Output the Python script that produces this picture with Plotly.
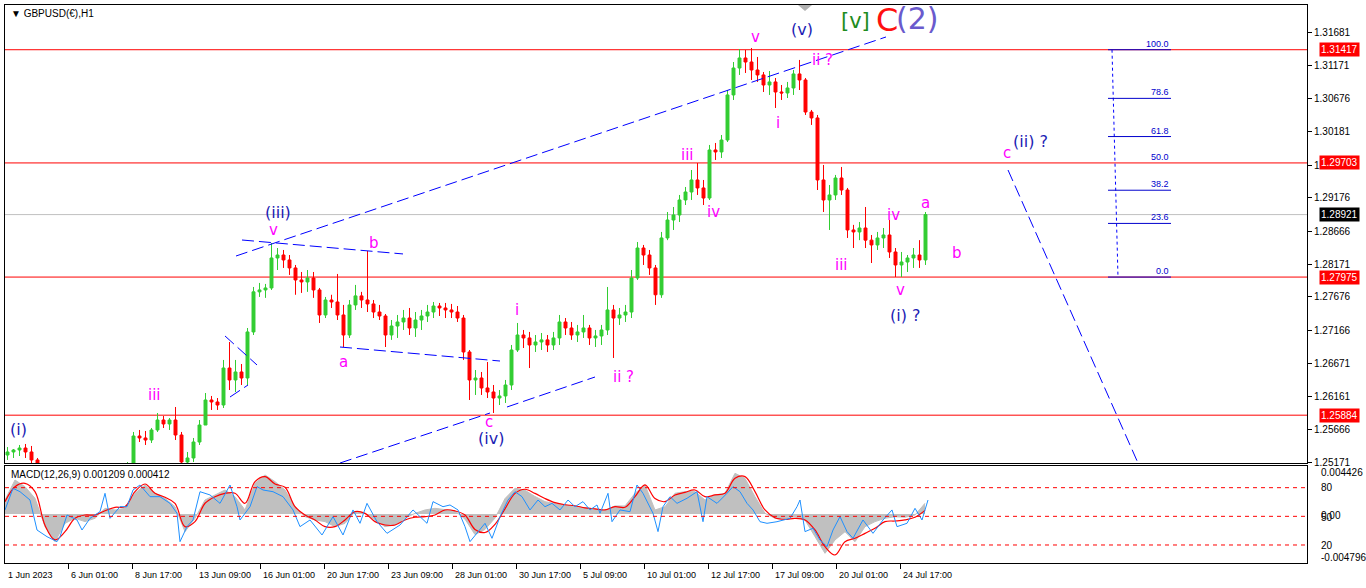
import plotly.graph_objects as go

# ---------------- price data (H1 bars grouped 6 per candle) ----------------
candle_open = [1.25281,1.25327,1.25357,1.25387,1.25327,1.25206,1.25054,1.24903,1.24751,1.24827,
 1.24873,1.24933,1.24979,1.24903,1.24994,1.24964,1.24827,1.24751,1.24842,1.24964,
 1.25054,1.25130,1.25569,1.25539,1.25508,1.25660,1.25811,1.25751,1.25811,1.25584,
 1.25175,1.25236,1.25478,1.25735,1.26114,1.26084,1.26038,1.26598,1.26417,1.26538,
 1.26447,1.27144,1.27751,1.27780,1.27810,1.28264,1.28309,1.28234,1.28113,1.27931,
 1.27901,1.27961,1.27780,1.27401,1.27628,1.27598,1.27401,1.27098,1.27553,1.27690,
 1.27628,1.27568,1.27446,1.27386,1.27098,1.27234,1.27295,1.27355,1.27204,1.27325,
 1.27386,1.27446,1.27537,1.27507,1.27477,1.27446,1.27355,1.26841,1.26417,1.26447,
 1.26296,1.26235,1.26144,1.26175,1.26341,1.26871,1.27098,1.27053,1.26947,1.26992,
 1.27024,1.26947,1.27053,1.27295,1.27204,1.27098,1.27144,1.27204,1.27053,1.27083,
 1.27174,1.27477,1.27355,1.27401,1.27446,1.27961,1.28415,1.28309,1.28113,1.27707,
 1.28567,1.28839,1.28915,1.29142,1.29263,1.29445,1.29324,1.29172,1.29899,1.29869,
 1.30050,1.30732,1.31140,1.31292,1.31231,1.31110,1.31035,1.30883,1.30929,1.30777,
 1.30762,1.30838,1.31050,1.30959,1.30474,1.30384,1.29445,1.29142,1.29218,1.29475,
 1.29293,1.28688,1.28658,1.28718,1.28534,1.28461,1.28567,1.28612,1.28355,1.28158,
 1.28203,1.28264,1.28309,1.28234]
candle_high = [1.25402,1.25372,1.25433,1.25448,1.25418,1.25236,1.25085,1.24979,1.24903,1.24933,
 1.25024,1.25054,1.25085,1.25054,1.25085,1.25054,1.24933,1.24903,1.25024,1.25085,
 1.25175,1.25630,1.25660,1.25645,1.25690,1.25917,1.25872,1.25841,1.26008,1.25630,
 1.25327,1.25539,1.25811,1.26220,1.26175,1.26144,1.26720,1.26992,1.26720,1.26659,
 1.27204,1.27825,1.27886,1.27871,1.28491,1.28415,1.28385,1.28309,1.28158,1.28052,
 1.28082,1.28052,1.27810,1.27674,1.27707,1.28022,1.27553,1.27628,1.27856,1.27751,
 1.28370,1.27628,1.27553,1.27416,1.27325,1.27401,1.27477,1.27507,1.27446,1.27477,
 1.27553,1.27598,1.27583,1.27583,1.27568,1.27537,1.27401,1.26871,1.26568,1.26538,
 1.26689,1.26341,1.26265,1.26417,1.26947,1.27280,1.27174,1.27144,1.27098,1.27128,
 1.27098,1.27144,1.27401,1.27355,1.27295,1.27250,1.27401,1.27250,1.27174,1.27250,
 1.27825,1.27553,1.27507,1.27553,1.28082,1.28506,1.28461,1.28385,1.28158,1.28658,
 1.28960,1.29036,1.29218,1.29339,1.29596,1.29702,1.29445,1.29975,1.30005,1.30126,
 1.30807,1.31231,1.31428,1.31413,1.31443,1.31307,1.31080,1.31095,1.30989,1.30883,
 1.30929,1.31110,1.31262,1.30989,1.30505,1.30429,1.29672,1.29369,1.29521,1.29642,
 1.29324,1.28765,1.28809,1.29036,1.28612,1.28658,1.28718,1.28839,1.28415,1.28355,
 1.28309,1.28415,1.28534,1.28960]
candle_low = [1.25206,1.25236,1.25266,1.25236,1.25160,1.24979,1.24827,1.24676,1.24600,1.24676,
 1.24751,1.24782,1.24812,1.24751,1.24842,1.24751,1.24630,1.24600,1.24751,1.24873,
 1.24964,1.25115,1.25478,1.25433,1.25463,1.25630,1.25690,1.25660,1.25508,1.25054,
 1.25085,1.25175,1.25433,1.25735,1.25963,1.25963,1.25993,1.26265,1.26235,1.26341,
 1.26341,1.27098,1.27674,1.27660,1.27780,1.28082,1.28113,1.28007,1.27707,1.27735,
 1.27751,1.27660,1.27280,1.27355,1.27507,1.27325,1.26916,1.27053,1.27477,1.27507,
 1.27446,1.27355,1.27325,1.26916,1.27024,1.27053,1.27174,1.27098,1.27068,1.27174,
 1.27295,1.27355,1.27386,1.27355,1.27355,1.27295,1.26720,1.26114,1.26190,1.26190,
 1.26144,1.25917,1.26038,1.26069,1.26265,1.26841,1.26901,1.26598,1.26841,1.26871,
 1.26841,1.26871,1.26947,1.27098,1.27024,1.26992,1.27053,1.26947,1.26916,1.26947,
 1.27098,1.26750,1.27250,1.27295,1.27355,1.27931,1.28158,1.28007,1.27553,1.27660,
 1.28534,1.28688,1.28809,1.29066,1.29142,1.29218,1.29066,1.29142,1.29748,1.29778,
 1.30020,1.30656,1.31035,1.31065,1.30959,1.30929,1.30777,1.30732,1.30535,1.30656,
 1.30686,1.30732,1.30807,1.30429,1.30278,1.29293,1.28960,1.28688,1.29142,1.29218,
 1.28567,1.28415,1.28534,1.28415,1.28188,1.28385,1.28415,1.28264,1.27976,1.27976,
 1.28052,1.28113,1.28113,1.28158]
candle_close = [1.25327,1.25357,1.25387,1.25327,1.25206,1.25054,1.24903,1.24751,1.24827,1.24873,
 1.24933,1.24979,1.24903,1.24994,1.24964,1.24827,1.24751,1.24842,1.24964,1.25054,
 1.25130,1.25569,1.25539,1.25508,1.25660,1.25811,1.25751,1.25811,1.25584,1.25175,
 1.25236,1.25478,1.25735,1.26114,1.26084,1.26038,1.26598,1.26417,1.26538,1.26447,
 1.27144,1.27751,1.27780,1.27810,1.28264,1.28309,1.28234,1.28113,1.27931,1.27901,
 1.27961,1.27780,1.27401,1.27628,1.27598,1.27401,1.27098,1.27553,1.27690,1.27628,
 1.27568,1.27446,1.27386,1.27098,1.27234,1.27295,1.27355,1.27204,1.27325,1.27386,
 1.27446,1.27537,1.27507,1.27477,1.27446,1.27355,1.26841,1.26417,1.26447,1.26296,
 1.26235,1.26144,1.26175,1.26341,1.26871,1.27098,1.27053,1.26947,1.26992,1.27024,
 1.26947,1.27053,1.27295,1.27204,1.27098,1.27144,1.27204,1.27053,1.27083,1.27174,
 1.27477,1.27355,1.27401,1.27446,1.27961,1.28415,1.28309,1.28113,1.27707,1.28567,
 1.28839,1.28915,1.29142,1.29263,1.29445,1.29324,1.29172,1.29899,1.29869,1.30050,
 1.30732,1.31140,1.31292,1.31231,1.31110,1.31035,1.30883,1.30929,1.30777,1.30762,
 1.30838,1.31050,1.30959,1.30474,1.30384,1.29445,1.29142,1.29218,1.29475,1.29293,
 1.28688,1.28658,1.28718,1.28534,1.28461,1.28567,1.28612,1.28355,1.28158,1.28203,
 1.28264,1.28309,1.28234,1.28921]
BARS_PER_CANDLE = 6
candle_x = [BARS_PER_CANDLE * k + 2.5 for k in range(len(candle_close))]

# ---------------- axes labels ----------------
price_ticks = [1.31681,1.31171,1.30676,1.30181,1.29671,1.29176,1.28666,1.28171,
               1.27676,1.27166,1.26671,1.26161,1.25666,1.25171]
red_levels = [1.31417, 1.29703, 1.27975, 1.25884]
current_price = 1.28921
date_labels = ["1 Jun 2023","6 Jun 01:00","8 Jun 17:00","13 Jun 09:00","16 Jun 01:00",
               "20 Jun 17:00","23 Jun 09:00","28 Jun 01:00","30 Jun 17:00","5 Jul 09:00",
               "10 Jul 01:00","12 Jul 17:00","17 Jul 09:00","20 Jul 01:00","24 Jul 17:00"]
date_bars = [0,63,127,191,255,319,383,447,511,575,639,703,767,831,895]

# ---------------- MACD panel data ----------------
macd_x = list(range(0, 930, 10))
macd_main = [0.00136,0.00330,0.00265,0.00152,-0.00123,-0.00269,-0.00091,-0.00042,-0.00074,-0.00042,
 0.00055,0.00039,0.00055,0.00201,0.00282,0.00201,0.00152,0.00071,-0.00172,-0.00042,
 0.00136,0.00185,0.00233,0.00168,0.00039,0.00298,0.00379,0.00314,0.00233,0.00071,
 -0.00026,-0.00058,-0.00074,-0.00123,-0.00091,0.00023,0.00006,-0.00058,-0.00123,-0.00107,
 -0.00042,0.00006,0.00039,0.00055,0.00039,
 0.00030,-0.00050,-0.00200,-0.00150,-0.00040,0.00150,0.00250,0.00230,0.00170,0.00120,
 0.00100,0.00090,0.00070,0.00060,0.00050,
 0.00039,0.00078,0.00078,0.00201,0.00282,0.00039,0.00071,0.00201,0.00217,0.00217,
 0.00136,0.00185,0.00201,0.00395,0.00346,0.00168,0.00006,-0.00042,-0.00042,-0.00026,
 -0.00058,-0.00220,-0.00382,-0.00252,-0.00172,-0.00269,-0.00123,-0.00074,-0.00042,-0.00026,
 -0.00032,-0.00010,0.00104]
macd_signal = [0.00120,0.00265,0.00298,0.00217,-0.00110,-0.00252,-0.00172,-0.00042,-0.00010,-0.00010,
 0.00032,0.00065,0.00071,0.00217,0.00291,0.00201,0.00162,0.00104,-0.00123,-0.00074,
 0.00104,0.00168,0.00201,0.00201,0.00104,0.00314,0.00363,0.00291,0.00259,0.00071,
 -0.00010,-0.00058,-0.00123,-0.00123,-0.00058,0.00023,0.00006,-0.00074,-0.00107,-0.00107,
 -0.00058,-0.00032,-0.00026,-0.00010,0.00039,
 0.00030,-0.00010,-0.00150,-0.00180,-0.00100,0.00050,0.00200,0.00240,0.00200,0.00150,
 0.00110,0.00090,0.00080,0.00060,0.00050,
 0.00039,0.00071,0.00065,0.00168,0.00282,0.00150,0.00120,0.00185,0.00210,0.00233,
 0.00168,0.00185,0.00201,0.00346,0.00363,0.00217,0.00039,-0.00036,-0.00052,-0.00042,
 -0.00058,-0.00155,-0.00317,-0.00398,-0.00269,-0.00236,-0.00188,-0.00139,-0.00074,-0.00068,
 -0.00058,-0.00032,0.00035]
osc_x = [0,8,15,25,32,42,52,55,62,72,77,85,95,100,105,115,122,128,135,145,155,165,172,175,182,188,
 195,205,215,225,232,235,245,252,258,268,278,288,295,305,317,328,338,348,355,362,372,382,395,408,
 422,428,438,445,453,460,465,473,480,487,495,503,510,517,525,533,540,547,555,563,570,578,585,592,
 595,603,607,615,625,632,638,648,653,658,665,672,682,692,698,702,712,722,728,735,742,748,755,762,
 772,785,792,795,800,808,815,822,828,835,842,848,858,868,878,887,892,902,910,917,923]
osc_v = [56.7,79.3,75.8,67.1,35.7,28.7,23.5,28.7,51.4,46.2,35.7,47.9,54.9,74.1,47.9,60.1,60.1,77.6,82.8,
 70.6,70.6,63.6,53.2,23.5,39.2,46.2,75.8,72.4,63.6,82.8,60.1,46.2,60.1,81.1,77.6,75.8,70.6,56.7,39.2,
 46.2,30.5,49.7,30.5,56.7,42.7,63.6,44.4,32.2,40.9,56.7,42.7,65.4,60.1,61.9,
 56.7,39.2,23.5,34.0,42.7,27.0,49.7,67.1,75.8,70.6,56.7,67.1,60.1,63.6,56.7,67.1,60.1,65.4,56.7,61.9,
 53.2,74.1,44.4,56.7,54.9,82.8,74.1,53.2,34.0,60.1,70.6,63.6,68.9,75.8,44.4,70.6,63.6,74.1,81.1,75.8,
 63.6,56.7,44.4,42.7,44.4,47.9,60.1,67.1,34.0,37.5,25.2,18.3,35.7,49.7,34.0,27.0,46.2,32.2,46.2,56.7,
 39.2,42.7,58.4,46.2,67.1]
osc_levels = [80, 50, 20]

# ---------------- drawn objects (bar index, price) ----------------
trend_lines = [
    ((231, 1.28294), (881, 1.31610)),
    ((335, 1.25160), (485, 1.25917)),
    ((502, 1.26008), (590, 1.26462)),
    ((237, 1.28536), (398, 1.28325)),
    ((335, 1.26916), (495, 1.26704)),
    ((220, 1.27083), (252, 1.26644)),
    ((225, 1.26159), (243, 1.26341)),
    ((1003, 1.29596), (1133, 1.25160)),
]
fib_low, fib_high = 1.27975, 1.31417
fib_ratios = [100.0, 78.6, 61.8, 50.0, 38.2, 23.6, 0.0]
fib_x0, fib_x1 = 1107, 1166

MAG, NAVY = "#FF00FF", "#1C1CB4"
wave_labels = [
    ("(i)", 13, 1.25660, NAVY, 16), ("iii", 149, 1.26190, MAG, 15),
    ("(iii)", 273, 1.28960, NAVY, 16), ("v", 268, 1.28688, MAG, 15),
    ("b", 369, 1.28491, MAG, 15), ("a", 338, 1.26689, MAG, 15),
    ("i", 512, 1.27477, MAG, 15), ("c", 484, 1.25781, MAG, 15),
    ("(iv)", 486, 1.25524, NAVY, 16), ("ii ?", 618, 1.26462, MAG, 15),
    ("iii", 682, 1.29823, MAG, 15), ("iv", 708, 1.28960, MAG, 15),
    ("v", 750, 1.31610, MAG, 15), ("(v)", 797, 1.31716, NAVY, 16),
    ("ii ?", 817, 1.31262, MAG, 15), ("i", 773, 1.30308, MAG, 15),
    ("iii", 836, 1.28158, MAG, 15), ("iv", 888, 1.28915, MAG, 15),
    ("a", 920, 1.29097, MAG, 15), ("b", 952, 1.28340, MAG, 15),
    ("v", 895, 1.27780, MAG, 15), ("(i) ?", 900, 1.27386, NAVY, 16),
    ("c", 1002, 1.29853, MAG, 15), ("(ii) ?", 1025, 1.30035, NAVY, 16),
    ("[v]", 850, 1.31852, "#1E8C1E", 21), ("C", 882, 1.31867, "#FF1010", 32),
    ("(2)", 912, 1.31897, "#6A5ACD", 30),
]

# ---------------- figure ----------------
W, H = 1366, 588
ML, MR, MT, MB = 5, 59, 5, 25
PH = H - MT - MB
main_bottom = (563 - 463) / PH
macd_top = (563 - 466) / PH

fig = go.Figure()
fig.add_trace(go.Candlestick(
    x=candle_x, open=candle_open, high=candle_high, low=candle_low, close=candle_close,
    xaxis="x", yaxis="y", whiskerwidth=0, showlegend=False, hoverinfo="skip",
    increasing=dict(line=dict(color="#32CD32", width=1), fillcolor="#32CD32"),
    decreasing=dict(line=dict(color="#FF0000", width=1), fillcolor="#FF0000")))

fig.add_trace(go.Scatter(x=macd_x, y=macd_main, xaxis="x2", yaxis="y2", mode="lines",
                         fill="tozeroy", fillcolor="#C0C0C0", line=dict(color="#C0C0C0", width=1),
                         showlegend=False, hoverinfo="skip"))
fig.add_trace(go.Scatter(x=macd_x, y=macd_signal, xaxis="x2", yaxis="y2", mode="lines",
                         line=dict(color="#FF0000", width=1.2, shape="spline"),
                         showlegend=False, hoverinfo="skip"))
fig.add_trace(go.Scatter(x=osc_x, y=osc_v, xaxis="x2", yaxis="y3", mode="lines",
                         line=dict(color="#1E90FF", width=1),
                         showlegend=False, hoverinfo="skip"))

shapes = []
for lv in red_levels:
    shapes.append(dict(type="line", xref="x", yref="y", x0=0, x1=1302, y0=lv, y1=lv,
                       line=dict(color="#FF0000", width=1), layer="below"))
shapes.append(dict(type="line", xref="x", yref="y", x0=0, x1=1302, y0=current_price, y1=current_price,
                   line=dict(color="#C0C0C0", width=1), layer="below"))
for (a, b) in trend_lines:
    shapes.append(dict(type="line", xref="x", yref="y", x0=a[0], y0=a[1], x1=b[0], y1=b[1],
                       line=dict(color="#0000FF", width=1, dash="12px,5px")))
# fibonacci
shapes.append(dict(type="line", xref="x", yref="y", x0=fib_x0, y0=fib_high, x1=fib_x0 + 6, y1=fib_low,
                   line=dict(color="#0000FF", width=1, dash="3px,3px")))
for r in fib_ratios:
    lv = fib_low + (fib_high - fib_low) * r / 100.0
    if r != 50.0:
        shapes.append(dict(type="line", xref="x", yref="y", x0=fib_x0 - 4, x1=fib_x1, y0=lv, y1=lv,
                           line=dict(color="#0000CD", width=1)))
for lv in osc_levels:
    shapes.append(dict(type="line", xref="x2", yref="y3", x0=0, x1=1302, y0=lv, y1=lv,
                       line=dict(color="#FF0000", width=1, dash="4px,4px")))
# chart-shift marker
shapes.append(dict(type="path", xref="paper", yref="paper",
                   path="M %f,%f L %f,%f L %f,%f Z" % ((798 - ML) / 1302, 1.0, (812 - ML) / 1302, 1.0,
                                                      (805 - ML) / 1302, (563 - 11) / PH),
                   fillcolor="#B0B0B0", line=dict(width=0)))

ann = []
for (t, bx, py, col, sz) in wave_labels:
    ann.append(dict(x=bx, y=py, xref="x", yref="y", text=t, showarrow=False,
                    xanchor="center", yanchor="middle",
                    font=dict(family="DejaVu Sans", size=sz, color=col)))
for r in fib_ratios:
    lv = fib_low + (fib_high - fib_low) * r / 100.0
    ann.append(dict(x=fib_x1, y=lv, xref="x", yref="y", text="%.1f" % r, showarrow=False,
                    xanchor="right", yanchor="bottom", yshift=-1,
                    font=dict(family="Liberation Sans", size=9, color="#0000CD")))
for lv in red_levels:
    ann.append(dict(x=1, y=lv, xref="paper", yref="y", text="%.5f" % lv, showarrow=False,
                    xanchor="left", yanchor="middle", xshift=12, bgcolor="#FF0000", borderpad=1,
                    font=dict(family="Liberation Sans", size=10, color="white")))
ann.append(dict(x=1, y=current_price, xref="paper", yref="y", text="%.5f" % current_price,
                showarrow=False, xanchor="left", yanchor="middle", xshift=12, bgcolor="#000000", borderpad=1,
                font=dict(family="Liberation Sans", size=10, color="white")))
for t, bx in zip(date_labels, date_bars):
    ann.append(dict(x=bx, y=-12 / PH, xref="x", yref="paper", text=t, showarrow=False,
                    xanchor="left", yanchor="middle", xshift=1,
                    font=dict(family="Liberation Sans", size=9, color="black")))
# MACD panel right-side labels
for t, py in [("0.004426", 472), ("80", 487), ("0.00", 515), ("50", 517), ("20", 545), ("-0.004796", 557)]:
    ann.append(dict(x=1, y=(563 - py) / PH, xref="paper", yref="paper", text=t, showarrow=False,
                    xanchor="left", yanchor="middle", xshift=12,
                    font=dict(family="Liberation Sans", size=10, color="black")))
ann.append(dict(x=4 / 1302, y=(563 - 474) / PH, xref="paper", yref="paper",
                text="MACD(12,26,9) 0.001209 0.000412", showarrow=False, xanchor="left", yanchor="middle",
                font=dict(family="Liberation Sans", size=10, color="black")))
ann.append(dict(x=4 / 1302, y=(563 - 13) / PH, xref="paper", yref="paper",
                text="▼ GBPUSD(€),H1", showarrow=False, xanchor="left", yanchor="middle",
                font=dict(family="Liberation Sans", size=10, color="black")))

axis_common = dict(showline=True, mirror=True, linecolor="black", linewidth=1,
                   showgrid=False, zeroline=False)
fig.update_layout(
    width=W, height=H, margin=dict(l=ML, r=MR, t=MT, b=MB),
    paper_bgcolor="white", plot_bgcolor="white", showlegend=False,
    xaxis=dict(domain=[0, 1], anchor="y", range=[0, 1302], showticklabels=False, ticks="",
               rangeslider=dict(visible=False), **axis_common),
    yaxis=dict(domain=[main_bottom, 1], anchor="x", range=[1.25160, 1.32094], side="right",
               tickvals=price_ticks, ticktext=["%.5f" % v for v in price_ticks],
               ticks="outside", ticklen=4, tickcolor="black",
               tickfont=dict(family="Liberation Sans", size=10, color="black"), **axis_common),
    xaxis2=dict(domain=[0, 1], anchor="y2", range=[0, 1302], matches="x", showticklabels=False,
                tickvals=date_bars[1:], ticks="outside", ticklen=5, tickcolor="black",
                rangeslider=dict(visible=False), **axis_common),
    yaxis2=dict(domain=[0, macd_top], anchor="x2", range=[-0.00476, 0.00466], side="right",
                showticklabels=False, ticks="", **axis_common),
    yaxis3=dict(overlaying="y2", anchor="x2", range=[1.15, 102.7], visible=False),
    shapes=shapes, annotations=ann,
)
fig.write_html("out.html", config={"displayModeBar": False},
               post_script="document.body.style.margin='0px';document.body.style.overflow='hidden';")
